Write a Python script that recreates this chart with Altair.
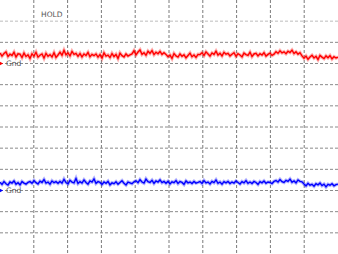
import altair as alt
import pandas as pd

# Oscilloscope settings: 10 horizontal divisions, 12 vertical divisions, 100 mV/div
x_divisions = 10
y_min, y_max = -600, 600
v_grid = [1, 2, 3, 4, 5, 6, 7, 8, 9]
h_grid = [-500, -400, -300, -200, -100, 0, 100, 200, 300, 400]
h_grid_top = [500]

channels = ["CH1", "CH2"]
ground_offsets = [300, -300]          # mV position of each channel's Gnd marker
channel_colors = ["#ff0000", "#0000ff"]

# CH1 samples (mV relative to its ground)
ch1 = [50, 35, 47, 55, 33, 44, 38, 53, 31, 46,
       44, 28, 49, 33, 41, 24, 46, 35, 53, 30, 39, 45, 26, 48, 34, 42, 31, 51, 29, 40,
       53, 39, 62, 41, 50, 36, 57, 43, 48,
       34, 47, 31, 45, 38, 52, 32, 43, 37,
       45, 30, 42, 25, 50, 35, 40, 28, 47, 33, 43, 24, 49, 37, 31, 45, 35, 41,
       45, 60, 41, 54, 64, 43, 51, 39, 58, 48, 61, 42, 53, 46, 57, 43, 51,
       43, 32, 40, 24, 47, 36, 30, 45, 34, 41, 27, 38, 49, 32, 40, 29, 43,
       42, 51, 38, 55, 45, 35, 50, 43, 58, 40, 48, 36, 53, 44,
       48, 36, 44, 51, 34, 46, 40, 31, 49, 42, 38, 53, 33, 45, 48, 36, 46, 40, 51, 35, 43, 49, 38, 44,
       56, 48, 60, 50, 55, 46, 58, 52, 63, 47, 55, 44, 51,
       36, 25, 35, 20, 31, 39, 26, 34, 19, 38, 30, 23, 36, 27, 37, 22, 32, 26, 30]

# CH2 samples (mV relative to its ground)
ch2 = [39, 29, 42, 32, 26, 40, 35, 45, 30, 37, 27, 42, 35, 30, 38,
       42, 34, 47, 37, 31, 44, 38, 52, 35, 40, 30, 45, 37, 42, 34,
       43, 35, 53, 38, 31, 48, 40, 36, 57, 33, 42, 35, 50, 38, 30, 45, 40, 55, 34, 42,
       38, 29, 40, 34, 43, 27, 36, 32, 41, 30, 38, 46, 34, 26, 40, 36, 32, 41,
       46, 37, 51, 40, 35, 54, 42, 38, 48, 34, 45, 40, 50, 37, 43,
       34, 43, 31, 41, 37, 47, 33, 42, 38, 29, 45, 36, 40, 33, 43, 35, 38,
       42, 33, 47, 36, 40, 31, 43, 37, 50, 34, 40, 30, 42,
       36, 43, 33, 40, 35, 45, 38, 31, 42, 36, 47, 34, 40, 33, 43, 38, 29, 42, 36, 45, 34, 40, 38, 33, 43,
       47, 40, 52, 42, 38, 48, 43, 54, 39, 45, 36, 50, 43, 41,
       31, 22, 34, 25, 29, 20, 32, 27, 35, 23, 30, 17, 29, 25, 32, 22, 28, 30]

status_text = ["HOLD"]
gnd_label = "Gnd"

rows = []
for ch, off, samples in zip(channels, ground_offsets, [ch1, ch2]):
    n = len(samples)
    for i, v in enumerate(samples):
        rows.append({"ch": ch, "t": i * x_divisions / (n - 1), "v": v + off})
trace_df = pd.DataFrame(rows)

xs = alt.Scale(domain=[0, x_divisions], nice=False, zero=False)
ys = alt.Scale(domain=[y_min, y_max], nice=False, zero=False)
cs = alt.Scale(domain=channels, range=channel_colors)

vgrid = alt.Chart(pd.DataFrame({"x": v_grid})).mark_rule(
    color="#7a7a7a", strokeWidth=1, strokeDash=[3, 2]
).encode(x=alt.X("x:Q", scale=xs, axis=None))

hgrid = alt.Chart(pd.DataFrame({"y": h_grid})).mark_rule(
    color="#8a8a8a", strokeWidth=1, strokeDash=[3, 2]
).encode(y=alt.Y("y:Q", scale=ys, axis=None))

hgrid_top = alt.Chart(pd.DataFrame({"y": h_grid_top})).mark_rule(
    color="#bcbcbc", strokeWidth=1, strokeDash=[3, 2]
).encode(y=alt.Y("y:Q", scale=ys, axis=None))

halo = alt.Chart(trace_df).mark_line(strokeWidth=3.5, opacity=0.3, interpolate="linear").encode(
    x=alt.X("t:Q", scale=xs, axis=None),
    y=alt.Y("v:Q", scale=ys, axis=None),
    color=alt.Color("ch:N", scale=cs, legend=None),
)
trace = alt.Chart(trace_df).mark_line(strokeWidth=1.4, interpolate="linear").encode(
    x=alt.X("t:Q", scale=xs, axis=None),
    y=alt.Y("v:Q", scale=ys, axis=None),
    color=alt.Color("ch:N", scale=cs, legend=None),
)

gnd_df = pd.DataFrame({"ch": channels, "gnd": ground_offsets, "label": [gnd_label] * 2})
markers = alt.Chart(gnd_df).mark_point(shape="triangle-right", filled=True, size=14, opacity=1).encode(
    x=alt.value(1.5),
    y=alt.Y("gnd:Q", scale=ys, axis=None),
    color=alt.Color("ch:N", scale=cs, legend=None),
)
gnd_text = alt.Chart(gnd_df).mark_text(
    align="left", baseline="middle", dx=0, fontSize=7.5, font="DejaVu Sans", color="#555555"
).encode(
    x=alt.value(6),
    y=alt.Y("gnd:Q", scale=ys, axis=None),
    text="label:N",
)

hold = alt.Chart(pd.DataFrame({"s": status_text})).mark_text(
    align="left", baseline="middle", fontSize=7.5, font="DejaVu Sans", color="#555555"
).encode(x=alt.value(41), y=alt.value(15), text="s:N")

chart = alt.layer(vgrid, hgrid, hgrid_top, halo, trace, markers, gnd_text, hold).properties(
    width=338, height=254, padding=0, autosize="none", background="white"
).configure_view(stroke=None)

chart.save("out.html", embed_options={"renderer": "svg", "actions": False})
